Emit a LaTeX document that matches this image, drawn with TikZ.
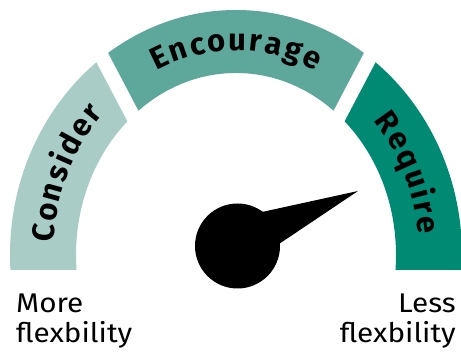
\documentclass[tikz,border=0pt]{standalone}
\usepackage{fontspec}
\setmainfont{Fira Sans}
\newfontfamily\lblfamily[LetterSpace=0.1]{Fira Sans}
\newfontfamily\endfamily[FakeStretch=1.1]{Fira Sans}
\usetikzlibrary{decorations.text}
\definecolor{cLight}{HTML}{A9CDC6}
\definecolor{cMid}{HTML}{5DA79B}
\definecolor{cDark}{HTML}{008973}
\newcommand{\lblfnt}{\lblfamily\bfseries\fontsize{31}{31}\selectfont\fontdimen2\font=2.2pt\fontdimen3\font=0pt\fontdimen4\font=0pt\relax}
\tikzset{
  ring/.style={even odd rule},
  gap/.style={white, line width=14.5pt},
  bandtext/.style={decorate, decoration={text along path, text align=center, text={|\lblfnt|#1}}},
  sidetext/.style={inner sep=0pt, font=\endfamily\fontsize{27}{30}\selectfont},
}
\begin{document}
\begin{tikzpicture}[x=1pt,y=1pt]
\useasboundingbox (0,0) rectangle (461,352);
\fill[white] (0,0) rectangle (461,352);
% bands
\begin{scope}
\clip (0,82) -- (0,352) -- (72,352) -- (213.8,82) -- cycle;
\fill[cLight, ring] (236,97) ellipse [x radius=226pt, y radius=245pt] (236,97) ellipse [x radius=160pt, y radius=182pt];
\end{scope}
\begin{scope}
\clip (72,352) -- (400,352) -- (258.2,82) -- (213.8,82) -- cycle;
\fill[cMid, ring] (236,97) ellipse [x radius=226pt, y radius=245pt] (236,97) ellipse [x radius=160pt, y radius=182pt];
\end{scope}
\begin{scope}
\clip (400,352) -- (461,352) -- (461,82) -- (258.2,82) -- cycle;
\fill[cDark, ring] (236,97) ellipse [x radius=226pt, y radius=245pt] (236,97) ellipse [x radius=160pt, y radius=182pt];
\end{scope}
% gaps
\draw[gap] (72,352) -- (145.5,212);
\draw[gap] (400,352) -- (326.5,212);
% band labels
\path[bandtext={C o n s i d e r}] (236,97) ++(215:183pt and 204.5pt) arc[start angle=215, end angle=95, x radius=183pt, y radius=204.5pt];
\path[bandtext={E n c o u r a g e}] (236,97) ++(150:184pt and 204.5pt) arc[start angle=150, end angle=30, x radius=184pt, y radius=204.5pt];
\path[bandtext={R e q u i r e}] (236,97) ++(85:183pt and 204.5pt) arc[start angle=85, end angle=-35, x radius=183pt, y radius=204.5pt];
% needle
\fill[black] (237.5,106) circle[radius=42.5pt];
\fill[black] (262,140) -- (358,161) -- (279,108) -- cycle;
% end labels
\node[sidetext, anchor=base west] (more) at (16,39) {More};
\node[sidetext, anchor=base west] (flexl) at (16,9) {flexbility};
\node[sidetext, anchor=base east] (less) at (456,39) {Less};
\node[sidetext, anchor=base east] (flexr) at (456,9) {flexbility};
\end{tikzpicture}
\end{document}
